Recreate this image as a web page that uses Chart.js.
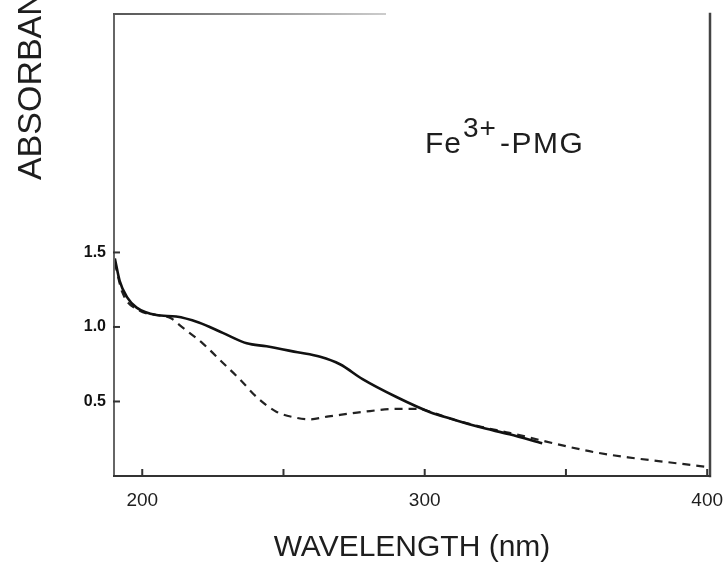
<!DOCTYPE html>
<html>
<head>
<meta charset="utf-8">
<script src="https://cdn.jsdelivr.net/npm/chart.js@4"></script>
<style>
  html, body { margin: 0; padding: 0; background: #fff; }
  #wrap { width: 725px; height: 564px; }
</style>
</head>
<body>
<div id="wrap"><canvas id="c" width="725" height="564"></canvas></div>
<script>
// wavelength (nm) / absorbance
const solidNm  = [190.3, 192, 194.6, 198, 205, 212, 220, 228.5, 237, 244, 255, 263, 270, 278, 290, 301.7, 310, 319, 330, 341.6];
const solidAbs = [1.46, 1.31, 1.20, 1.13, 1.08, 1.07, 1.03, 0.96, 0.89, 0.87, 0.83, 0.80, 0.75, 0.65, 0.53, 0.43, 0.38, 0.33, 0.28, 0.22];

const dashNm  = [190.3, 193, 199, 205, 210, 214, 221.4, 228.5, 234.5, 240.5, 247.6, 254.7, 259, 266, 270, 278, 290, 298, 302, 310, 320, 330, 341, 350, 360, 372, 385, 400.5];
const dashAbs = [1.43, 1.23, 1.11, 1.08, 1.06, 1.00, 0.89, 0.76, 0.65, 0.53, 0.43, 0.39, 0.38, 0.40, 0.41, 0.43, 0.45, 0.45, 0.43, 0.38, 0.33, 0.29, 0.24, 0.20, 0.16, 0.125, 0.095, 0.06];

const xTicks = [200, 250, 300, 350, 400];
const xLabels = [200, 300, 400];
const yTicks = [0.5, 1.0, 1.5];

const FONT = '"Liberation Sans", Arial, sans-serif';
const INK = '#1e1e1e';

const toPts = (xs, ys) => xs.map((x, i) => ({ x, y: ys[i] }));

// frame, inward ticks and the free text labels
const decor = {
  id: 'decor',
  afterDraw(chart) {
    const { ctx, chartArea: a, scales } = chart;
    ctx.save();
    ctx.lineCap = 'square';
    // frame (top edge is faded out past ~385px in the scan)
    ctx.lineWidth = 2;
    ctx.strokeStyle = '#666';
    ctx.beginPath(); ctx.moveTo(a.left, a.bottom); ctx.lineTo(a.left, a.top); ctx.stroke();
    const topGrad = ctx.createLinearGradient(a.left, 0, 385, 0);
    topGrad.addColorStop(0, '#555');
    topGrad.addColorStop(1, '#ccc');
    ctx.strokeStyle = topGrad;
    ctx.beginPath(); ctx.moveTo(a.left, a.top); ctx.lineTo(385, a.top); ctx.stroke();
    ctx.strokeStyle = '#444';
    ctx.lineWidth = 2.5;
    ctx.beginPath(); ctx.moveTo(a.right, a.top); ctx.lineTo(a.right, a.bottom); ctx.stroke();
    ctx.strokeStyle = '#333';
    ctx.lineWidth = 2;
    ctx.beginPath(); ctx.moveTo(a.left, a.bottom); ctx.lineTo(a.right, a.bottom); ctx.stroke();

    // inward ticks
    ctx.strokeStyle = '#333';
    ctx.lineWidth = 2;
    xTicks.forEach(v => {
      const px = scales.x.getPixelForValue(v);
      ctx.beginPath(); ctx.moveTo(px, a.bottom); ctx.lineTo(px, a.bottom - 6); ctx.stroke();
    });
    yTicks.forEach(v => {
      const py = scales.y.getPixelForValue(v);
      ctx.beginPath(); ctx.moveTo(a.left, py); ctx.lineTo(a.left + 5, py); ctx.stroke();
    });

    // axis titles
    ctx.fillStyle = INK;
    ctx.font = '30px ' + FONT;
    ctx.textAlign = 'center';
    ctx.textBaseline = 'alphabetic';
    ctx.fillText('WAVELENGTH (nm)', (a.left + a.right) / 2, 556);

    ctx.save();
    ctx.font = '34px ' + FONT;
    ctx.translate(41, 62);
    ctx.rotate(-Math.PI / 2);
    ctx.fillText('ABSORBANCE', 0, 0);
    ctx.restore();

    // Fe3+-PMG
    ctx.textAlign = 'left';
    let x = 425;
    ctx.font = '30px ' + FONT;
    ctx.letterSpacing = '1px';
    ctx.fillText('Fe', x, 153);
    x += ctx.measureText('Fe').width + 1;
    ctx.font = '28px ' + FONT;
    ctx.fillText('3+', x, 137);
    x += ctx.measureText('3+').width + 3;
    ctx.font = '30px ' + FONT;
    ctx.letterSpacing = '1.5px';
    ctx.fillText('-PMG', x, 153);
    ctx.restore();
  }
};

new Chart(document.getElementById('c'), {
  type: 'line',
  data: {
    datasets: [
      {
        label: 'solid',
        data: toPts(solidNm, solidAbs),
        borderColor: '#111',
        borderWidth: 2.6,
        pointRadius: 0,
        cubicInterpolationMode: 'monotone',
        fill: false
      },
      {
        label: 'dashed',
        data: toPts(dashNm, dashAbs),
        borderColor: '#222',
        borderWidth: 2.2,
        borderDash: [8, 6],
        pointRadius: 0,
        cubicInterpolationMode: 'monotone',
        fill: false
      }
    ]
  },
  options: {
    responsive: false,
    animation: false,
    layout: { padding: { left: 0, top: 14, right: 15, bottom: 0 } },
    plugins: { legend: { display: false }, tooltip: { enabled: false } },
    scales: {
      x: {
        type: 'linear',
        min: 190,
        max: 401,
        grid: { display: false, drawTicks: false },
        border: { display: false },
        afterBuildTicks: s => { s.ticks = xTicks.map(v => ({ value: v })); },
        afterFit: s => { s.height = 88; s.paddingLeft = 0; s.paddingRight = 0; },
        ticks: {
          autoSkip: false,
          maxRotation: 0,
          padding: 13,
          color: INK,
          font: { family: FONT, size: 19 },
          callback: v => (xLabels.includes(v) ? String(v) : '')
        }
      },
      y: {
        type: 'linear',
        min: 0,
        max: 3.1,
        grid: { display: false, drawTicks: false },
        border: { display: false },
        afterBuildTicks: s => { s.ticks = yTicks.map(v => ({ value: v })); },
        afterFit: s => { s.width = 114; s.paddingTop = 0; s.paddingBottom = 0; },
        ticks: {
          padding: 8,
          color: '#111',
          font: { family: FONT, size: 16, weight: 'bold' },
          callback: v => v.toFixed(1)
        }
      }
    }
  },
  plugins: [decor]
});
</script>
</body>
</html>
